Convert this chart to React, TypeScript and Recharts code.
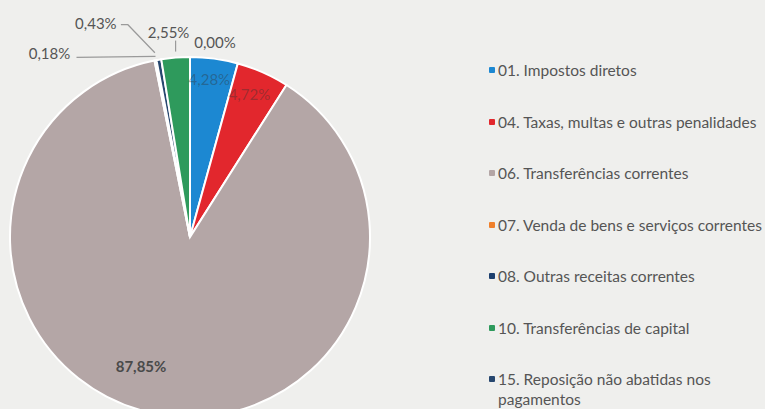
import { PieChart, Pie, Cell, Legend } from 'recharts';

const categories = [
  '01. Impostos diretos',
  '04. Taxas, multas e outras penalidades',
  '06. Transferências correntes',
  '07. Venda de bens e serviços correntes',
  '08. Outras receitas correntes',
  '10. Transferências de capital',
  '15. Reposição não abatidas nos pagamentos',
];
const shares = [4.28, 4.72, 87.85, 0.0, 0.18, 2.55, 0.43];
const shareLabels = ['4,28%', '4,72%', '87,85%', '0,00%', '0,18%', '2,55%', '0,43%'];
// order of the slices clockwise from 12 o'clock, as in the original
const sliceOrder = [0, 1, 2, 4, 6, 5, 3];

const colors = ['#1c88d2', '#e2272d', '#b4a6a6', '#f0802b', '#1c3f6e', '#2e9a5c', '#27476f'];

// label placement: r = fraction of outer radius, dx/dy shift of the text,
// leader = bend points of the leader line relative to the arc point
const labelCfg: Record<number, { r: number; dx: number; dy: number; leader?: number[][]; kind: string }> = {
  0: { r: 0.885, dx: -2, dy: 0, kind: 'in' },
  1: { r: 0.87, dx: -4, dy: 0, kind: 'in' },
  2: { r: 0.73, dx: -25, dy: 0, kind: 'big' },
  3: { r: 1, dx: 25, dy: -15, kind: 'out' },
  4: { r: 1, dx: -106, dy: -7, leader: [[0, -4], [-79, -3]], kind: 'out' },
  5: { r: 1, dx: -7, dy: -26, leader: [[0, -6], [0, -17]], kind: 'out' },
  6: { r: 1, dx: -63, dy: -37, leader: [[-4, -7], [-31, -35], [-38, -35]], kind: 'out' },
};

const data = sliceOrder.map((i) => ({ name: categories[i], value: shares[i], idx: i }));

const FONT = 'Lato, "Open Sans", sans-serif';

const renderLabel = (props: any) => {
  const { cx, cy, midAngle, outerRadius } = props;
  const i = props.idx ?? props.payload?.idx;
  const cfg = labelCfg[i];
  if (!cfg) return null;
  const rad = Math.PI / 180;
  const r = outerRadius * cfg.r;
  const ax = cx + r * Math.cos(-midAngle * rad);
  const ay = cy + r * Math.sin(-midAngle * rad);
  let fill = '#555';
  let opacity = 1;
  let weight = 400;
  if (cfg.kind === 'in') {
    fill = '#333';
    opacity = 0.4;
  }
  if (cfg.kind === 'big') {
    fill = '#4a4a4a';
    weight = 700;
  }
  return (
    <g key={`lbl-${i}`}>
      {cfg.leader && (
        <polyline
          points={cfg.leader.map(([px, py]) => `${ax + px},${ay + py}`).join(' ')}
          fill="none"
          stroke="#9a9a9a"
          strokeWidth={1.2}
        />
      )}
      <text
        x={ax + cfg.dx}
        y={ay + cfg.dy}
        textAnchor="middle"
        dominantBaseline="central"
        fontFamily={FONT}
        fontSize={15}
        fontWeight={weight}
        fill={fill}
        fillOpacity={opacity}
      >
        {shareLabels[i]}
      </text>
    </g>
  );
};

const renderLegend = () => (
  <div style={{ fontFamily: FONT, fontSize: 15.5, color: '#555' }}>
    {categories.map((c, i) => (
      <div key={c} style={{ height: 51.5, display: 'flex', alignItems: 'flex-start' }}>
        <span
          style={{
            display: 'inline-block',
            width: 6,
            height: 6,
            marginTop: 7,
            marginRight: 3,
            borderRadius: 1,
            background: colors[i],
            flex: 'none',
          }}
        />
        <span
          style={{
            lineHeight: '20px',
            whiteSpace: i === categories.length - 1 ? 'normal' : 'nowrap',
            maxWidth: i === categories.length - 1 ? 240 : undefined,
          }}
        >
          {c}
        </span>
      </div>
    ))}
  </div>
);

export default function App() {
  return (
    <div style={{ position: 'absolute', left: 0, top: 0, width: 765, height: 409, background: '#efefed', overflow: 'hidden' }}>
      <PieChart width={765} height={409} margin={{ top: 0, right: 0, bottom: 0, left: 0 }}>
        <Pie
          data={data}
          dataKey="value"
          nameKey="name"
          cx={190}
          cy={237}
          outerRadius={180}
          startAngle={90}
          endAngle={-270}
          stroke="#ffffff"
          strokeWidth={2}
          label={renderLabel}
          labelLine={false}
          isAnimationActive={false}
        >
          {data.map((d) => (
            <Cell key={d.name} fill={colors[d.idx]} />
          ))}
        </Pie>
        <Legend
          content={renderLegend}
          layout="vertical"
          verticalAlign="top"
          align="right"
          wrapperStyle={{ left: 489, top: 60, width: 276 }}
        />
      </PieChart>
    </div>
  );
}
